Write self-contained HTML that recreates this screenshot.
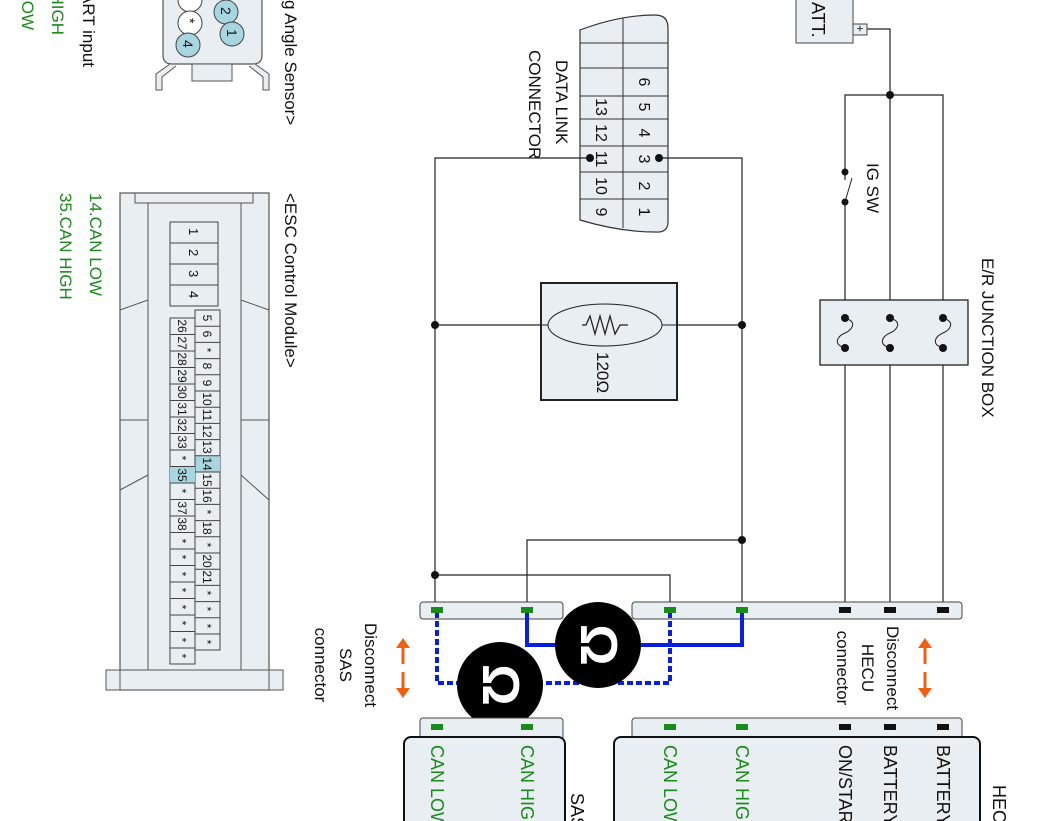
<!DOCTYPE html>
<html><head><meta charset="utf-8"><style>
html,body{margin:0;padding:0;background:#fff;width:1062px;height:821px;overflow:hidden}
svg{display:block}
text{font-family:"Liberation Sans",sans-serif;fill:#111}
.g{fill:#1a8a1a}
.w{stroke:#222;stroke-width:1.2;fill:none}
</style></head><body>
<svg width="1062" height="821" viewBox="0 0 1062 821" xmlns="http://www.w3.org/2000/svg" font-size="16">
<!-- top-left labels -->
<text transform="translate(83,67) rotate(90)" text-anchor="end" font-size="17">START input</text>
<text class="g" transform="translate(52,35) rotate(90)" text-anchor="end" font-size="17">HIGH</text>
<text class="g" transform="translate(22,30) rotate(90)" text-anchor="end" font-size="17">LOW</text>

<!-- SAS sensor connector -->
<path d="M163,-5 V55 Q163,64 172,64 H253 Q262,64 262,55 V-5 Z" fill="#e8eef1" stroke="#555" stroke-width="1.2"/>
<rect x="192" y="64" width="40" height="17" fill="#e8eef1" stroke="#555"/>
<path d="M170,64 L156,74 V90 H162 V77 L176,66" fill="#e8eef1" stroke="#555"/>
<path d="M255,64 L269,74 V90 H263 V77 L249,66" fill="#e8eef1" stroke="#555"/>
<circle cx="190" cy="0" r="12" fill="#fff" stroke="#444"/>
<circle cx="190" cy="23" r="12" fill="#fff" stroke="#444"/>
<circle cx="188" cy="45" r="12" fill="#a8d6e0" stroke="#444"/>
<circle cx="226" cy="12" r="12" fill="#a8d6e0" stroke="#444"/>
<circle cx="232" cy="34" r="12" fill="#a8d6e0" stroke="#444"/>
<text transform="translate(185,18) rotate(90)" font-size="14">*</text>
<text transform="translate(183,40) rotate(90)" font-size="14">4</text>
<text transform="translate(221,7) rotate(90)" font-size="14">2</text>
<text transform="translate(227,29) rotate(90)" font-size="14">1</text>
<text transform="translate(285,0) rotate(90)" font-size="17">g Angle Sensor&gt;</text>

<!-- ESC module -->
<text transform="translate(285,193) rotate(90)" font-size="17">&lt;ESC Control Module&gt;</text>
<text class="g" transform="translate(90,193) rotate(90)" font-size="17">14.CAN LOW</text>
<text class="g" transform="translate(60,193) rotate(90)" font-size="17">35.CAN HIGH</text>
<rect x="120" y="193" width="149" height="497" fill="#e8eef1" stroke="#555" stroke-width="1.2"/>
<path d="M135,193 V203 H253 V193" fill="none" stroke="#555"/>
<line x1="148" y1="203" x2="148" y2="690" stroke="#555"/>
<line x1="241" y1="203" x2="241" y2="690" stroke="#555"/>
<line x1="120" y1="310" x2="148" y2="300" stroke="#555"/><line x1="269" y1="310" x2="241" y2="300" stroke="#555"/>
<line x1="120" y1="420" x2="148" y2="420" stroke="#555"/><line x1="269" y1="420" x2="241" y2="420" stroke="#555"/>
<line x1="120" y1="490" x2="148" y2="475" stroke="#555"/><line x1="269" y1="500" x2="241" y2="475" stroke="#555"/>
<rect x="106" y="670" width="177" height="20" fill="#e8eef1" stroke="#555"/>
<line x1="120" y1="670" x2="120" y2="690" stroke="#555"/><line x1="269" y1="670" x2="269" y2="690" stroke="#555"/>
<rect x="170" y="222" width="48" height="84" fill="#e8eef1" stroke="#444"/>
<line x1="170" y1="243" x2="218" y2="243" stroke="#444"/><line x1="170" y1="264" x2="218" y2="264" stroke="#444"/><line x1="170" y1="285" x2="218" y2="285" stroke="#444"/>
<g font-size="13">
<text transform="translate(189,228) rotate(90)">1</text><text transform="translate(189,249) rotate(90)">2</text><text transform="translate(189,270) rotate(90)">3</text><text transform="translate(189,291) rotate(90)">4</text>
</g>
<rect x="195" y="310" width="25" height="340" fill="#e8eef1" stroke="#444"/>
<rect x="195" y="456" width="25" height="16.2" fill="#a8d6e0"/>
<rect x="170" y="318" width="25" height="346" fill="#e8eef1" stroke="#444"/>
<rect x="170" y="466" width="25" height="16.5" fill="#a8d6e0"/>
<g stroke="#444">
<path d="M195,326.2H220M195,342.4H220M195,358.6H220M195,374.8H220M195,391H220M195,407.2H220M195,423.4H220M195,439.6H220M195,455.8H220M195,472H220M195,488.2H220M195,504.4H220M195,520.6H220M195,536.8H220M195,553H220M195,569.2H220M195,585.4H220M195,601.6H220M195,617.8H220M195,634H220"/>
<path d="M170,334.5H195M170,351H195M170,367.5H195M170,384H195M170,400.5H195M170,417H195M170,433.5H195M170,450H195M170,466.5H195M170,483H195M170,499.5H195M170,516H195M170,532.5H195M170,549H195M170,565.5H195M170,582H195M170,598.5H195M170,615H195M170,631.5H195M170,648H195"/>
</g>
<g font-size="12" text-anchor="middle">
<text transform="translate(203,318) rotate(90)">5</text><text transform="translate(203,334) rotate(90)">6</text><text transform="translate(203,350) rotate(90)">*</text><text transform="translate(203,366) rotate(90)">8</text><text transform="translate(203,383) rotate(90)">9</text><text transform="translate(203,399) rotate(90)">10</text><text transform="translate(203,415) rotate(90)">11</text><text transform="translate(203,431) rotate(90)">12</text><text transform="translate(203,447) rotate(90)">13</text><text transform="translate(203,464) rotate(90)">14</text><text transform="translate(203,480) rotate(90)">15</text><text transform="translate(203,496) rotate(90)">16</text><text transform="translate(203,512) rotate(90)">*</text><text transform="translate(203,528) rotate(90)">18</text><text transform="translate(203,545) rotate(90)">*</text><text transform="translate(203,561) rotate(90)">20</text><text transform="translate(203,577) rotate(90)">21</text><text transform="translate(203,593) rotate(90)">*</text><text transform="translate(203,609) rotate(90)">*</text><text transform="translate(203,626) rotate(90)">*</text><text transform="translate(203,642) rotate(90)">*</text>
<text transform="translate(178,326) rotate(90)">26</text><text transform="translate(178,343) rotate(90)">27</text><text transform="translate(178,359) rotate(90)">28</text><text transform="translate(178,376) rotate(90)">29</text><text transform="translate(178,392) rotate(90)">30</text><text transform="translate(178,409) rotate(90)">31</text><text transform="translate(178,425) rotate(90)">32</text><text transform="translate(178,442) rotate(90)">33</text><text transform="translate(178,458) rotate(90)">*</text><text transform="translate(178,475) rotate(90)">35</text><text transform="translate(178,491) rotate(90)">*</text><text transform="translate(178,508) rotate(90)">37</text><text transform="translate(178,524) rotate(90)">38</text><text transform="translate(178,541) rotate(90)">*</text><text transform="translate(178,557) rotate(90)">*</text><text transform="translate(178,574) rotate(90)">*</text><text transform="translate(178,590) rotate(90)">*</text><text transform="translate(178,607) rotate(90)">*</text><text transform="translate(178,623) rotate(90)">*</text><text transform="translate(178,640) rotate(90)">*</text><text transform="translate(178,656) rotate(90)">*</text>
</g>

<!-- Data link connector -->
<path d="M580,30 Q620,15 655,15 Q668,15 668,28 V222 Q668,233 655,232 Q620,232 580,220 Z" fill="#e8eef1" stroke="#333" stroke-width="1.2"/>
<line x1="623" y1="18" x2="623" y2="228" stroke="#333"/>
<path d="M580,43H668M580,68H668M580,96H668M580,119H668M580,146H668M580,172H668M580,199H668" stroke="#333"/>
<g font-size="16" text-anchor="middle">
<text transform="translate(639,107) rotate(90)">5</text><text transform="translate(639,82) rotate(90)">6</text><text transform="translate(639,133) rotate(90)">4</text><text transform="translate(639,159) rotate(90)">3</text><text transform="translate(639,186) rotate(90)">2</text><text transform="translate(639,212) rotate(90)">1</text>
<text transform="translate(596,107) rotate(90)">13</text><text transform="translate(596,133) rotate(90)">12</text><text transform="translate(596,159) rotate(90)">11</text><text transform="translate(596,186) rotate(90)">10</text><text transform="translate(596,212) rotate(90)">9</text>
</g>
<text transform="translate(556,60) rotate(90)" font-size="17">DATA LINK</text>
<text transform="translate(529,50) rotate(90)" font-size="17">CONNECTOR</text>

<!-- wires -->
<g class="w">
<polyline points="590,158 435,158 435,610"/>
<polyline points="659,158 742,158 742,610"/>
<line x1="435" y1="325" x2="742" y2="325"/>
<polyline points="435,575 670,575 670,610"/>
<polyline points="742,540 527,540 527,610"/>
<polyline points="867,29 890,29 890,610"/>
<polyline points="845,610 845,95 943,95 943,610"/>
</g>
<g fill="#111">
<circle cx="590" cy="158" r="4"/><circle cx="659" cy="158" r="4"/>
<circle cx="435" cy="325" r="4"/><circle cx="742" cy="325" r="4"/>
<circle cx="435" cy="575" r="4"/><circle cx="742" cy="540" r="4"/>
<circle cx="890" cy="95" r="4"/>
</g>
<!-- resistor -->
<rect x="541" y="283" width="136" height="117" fill="#e8eef1" stroke="#222" stroke-width="2"/>
<line x1="541" y1="325" x2="677" y2="325" stroke="#222"/>
<ellipse cx="605" cy="325" rx="57" ry="21" fill="#e8eef1" stroke="#222"/>
<polyline points="582,325 586,325 590,316 595,334 600,316 605,334 610,316 615,334 620,325 628,325" fill="none" stroke="#222" stroke-width="1.3"/>
<text transform="translate(597,352) rotate(90)" font-size="17">120Ω</text>

<!-- battery -->
<rect x="796" y="-3" width="57" height="46" fill="#e8eef1" stroke="#444"/>
<rect x="853" y="24" width="14" height="11" fill="#e8eef1" stroke="#444"/>
<text transform="translate(812,2) rotate(90)" font-size="18">ATT.</text>
<text transform="translate(856,25) rotate(90)" font-size="12">+</text>
<!-- IG SW -->
<rect x="844" y="180" width="3" height="20" fill="#fff"/>
<circle cx="845" cy="172" r="3.5" fill="#111"/><circle cx="845" cy="202" r="3.5" fill="#111"/>
<line x1="845" y1="202" x2="852" y2="178" stroke="#222"/>
<text transform="translate(867,163) rotate(90)" font-size="17">IG SW</text>
<!-- junction box -->
<rect x="820" y="300" width="148" height="65" fill="#e8eef1" stroke="#222" stroke-width="1.3"/>
<g fill="#111"><circle cx="845" cy="318" r="4"/><circle cx="845" cy="348" r="4"/><circle cx="890" cy="318" r="4"/><circle cx="890" cy="348" r="4"/><circle cx="943" cy="318" r="4"/><circle cx="943" cy="348" r="4"/></g>
<g fill="none" stroke="#222"><path d="M845,318 C858,322 852,330 845,333 C838,336 832,344 845,348"/><path d="M890,318 C903,322 897,330 890,333 C883,336 877,344 890,348"/><path d="M943,318 C956,322 950,330 943,333 C936,336 930,344 943,348"/></g>
<text transform="translate(982,258) rotate(90)" font-size="17">E/R JUNCTION BOX</text>

<!-- upper connectors -->
<rect x="420" y="602" width="143" height="17" rx="3" fill="#e8eef1" stroke="#444"/>
<rect x="632" y="602" width="330" height="17" rx="3" fill="#e8eef1" stroke="#444"/>
<!-- blue -->
<polyline points="527,612 527,645 742,645 742,612" fill="none" stroke="#0a1ee0" stroke-width="4"/>
<polyline points="437,612 437,683 670,683 670,612" fill="none" stroke="#0a1ee0" stroke-width="4" stroke-dasharray="6,3"/>
<g fill="#1a8a1a"><rect x="431" y="607" width="12" height="6"/><rect x="521" y="607" width="12" height="6"/><rect x="664" y="607" width="12" height="6"/><rect x="736" y="607" width="12" height="6"/></g>
<g fill="#111"><rect x="839" y="607" width="12" height="6"/><rect x="884" y="607" width="12" height="6"/><rect x="937" y="607" width="12" height="6"/></g>
<!-- ohm circles -->
<circle cx="598" cy="645" r="43" fill="#000"/>
<circle cx="500" cy="685" r="43" fill="#000"/>
<text transform="translate(581,624) rotate(90)" font-size="52" font-weight="bold" style="fill:#fff">Ω</text>
<text transform="translate(483,664) rotate(90)" font-size="52" font-weight="bold" style="fill:#fff">Ω</text>

<!-- orange arrows -->
<g stroke="#f06010" stroke-width="3" fill="#f06010">
<line x1="403" y1="646" x2="403" y2="664"/><path d="M396,648 L403,638 L410,648Z" stroke="none"/>
<line x1="403" y1="672" x2="403" y2="690"/><path d="M396,688 L403,698 L410,688Z" stroke="none"/>
<line x1="925" y1="646" x2="925" y2="664"/><path d="M918,648 L925,638 L932,648Z" stroke="none"/>
<line x1="925" y1="672" x2="925" y2="690"/><path d="M918,688 L925,698 L932,688Z" stroke="none"/>
</g>
<g text-anchor="middle" font-size="17">
<text transform="translate(365,665) rotate(90)">Disconnect</text>
<text transform="translate(340,665) rotate(90)">SAS</text>
<text transform="translate(315,665) rotate(90)">connector</text>
<text transform="translate(887,668) rotate(90)">Disconnect</text>
<text transform="translate(862,668) rotate(90)">HECU</text>
<text transform="translate(837,668) rotate(90)">connector</text>
</g>

<!-- lower connectors & modules -->
<rect x="420" y="718" width="143" height="22" rx="3" fill="#e8eef1" stroke="#444"/>
<rect x="632" y="718" width="330" height="22" rx="3" fill="#e8eef1" stroke="#444"/>
<g fill="#1a8a1a"><rect x="431" y="724" width="12" height="6"/><rect x="521" y="724" width="12" height="6"/><rect x="664" y="724" width="12" height="6"/><rect x="736" y="724" width="12" height="6"/></g>
<g fill="#111"><rect x="839" y="724" width="12" height="6"/><rect x="884" y="724" width="12" height="6"/><rect x="937" y="724" width="12" height="6"/></g>
<rect x="404" y="737" width="161" height="100" rx="7" fill="#e8eef1" stroke="#111" stroke-width="2"/>
<rect x="614" y="737" width="366" height="100" rx="7" fill="#e8eef1" stroke="#111" stroke-width="2"/>
<g font-size="18">
<text class="g" transform="translate(431,745) rotate(90)">CAN LOW</text>
<text class="g" transform="translate(521,745) rotate(90)">CAN HIGH</text>
<text transform="translate(571,793) rotate(90)">SAS</text>
<text class="g" transform="translate(664,745) rotate(90)">CAN LOW</text>
<text class="g" transform="translate(736,745) rotate(90)">CAN HIGH</text>
<text transform="translate(839,745) rotate(90)">ON/START</text>
<text transform="translate(884,745) rotate(90)">BATTERY2</text>
<text transform="translate(937,745) rotate(90)">BATTERY1</text>
<text transform="translate(993,785) rotate(90)">HECU</text>
</g>
</svg>
</body></html>
